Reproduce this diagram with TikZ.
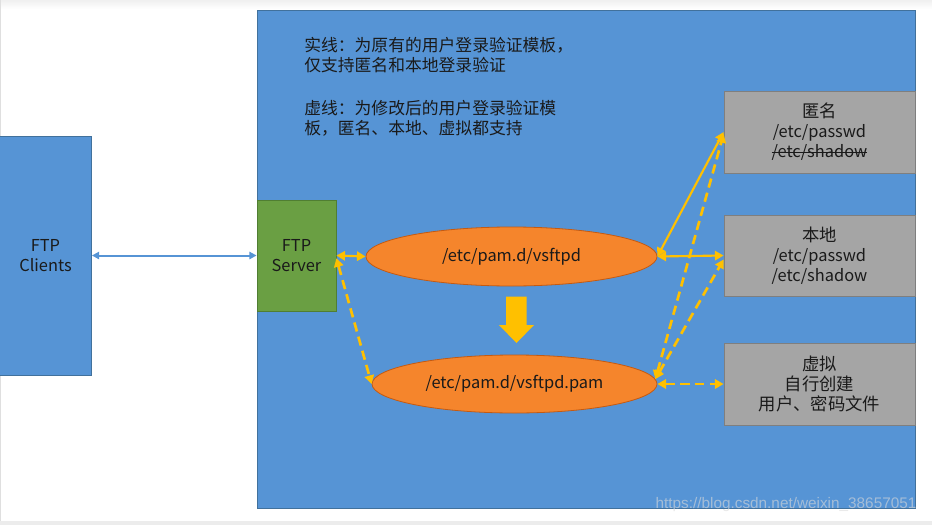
\documentclass[tikz,border=0pt]{standalone}
\usepackage{fontspec}
\setmainfont{Noto Sans CJK SC}
\newfontfamily\wmfont{Liberation Sans}
\usetikzlibrary{arrows.meta,shapes.geometric}
\definecolor{panelblue}{HTML}{5694D5}
\definecolor{panelline}{HTML}{41719C}
\definecolor{servgreen}{HTML}{6A9F43}
\definecolor{servline}{HTML}{507E32}
\definecolor{ellorange}{HTML}{F5852C}
\definecolor{ellline}{HTML}{C55A11}
\definecolor{boxgray}{HTML}{A5A5A5}
\definecolor{boxline}{HTML}{7F7F7F}
\definecolor{arrowyellow}{HTML}{FFC000}
\definecolor{txtcol}{HTML}{1A1A1A}
\newcommand\strikeit[1]{\setbox0\hbox{#1}\rlap{\rule[0.3em]{\wd0}{0.6pt}}\box0}
\newcommand\zh[1]{{\fontsize{13}{15}\selectfont #1}}
\tikzset{
  graybox/.style={rectangle, draw=boxline, fill=boxgray, line width=0.6pt,
    minimum width=143.25pt, minimum height=61.5pt, inner sep=0pt, align=center},
  ell/.style={ellipse, draw=ellline, fill=ellorange, line width=0.6pt, inner sep=0pt},
  ylink/.style={draw=arrowyellow, line width=1.6pt,
    {Triangle[length=6.5pt,width=7pt]}-{Triangle[length=6.5pt,width=7pt]}},
  ydash/.style={ylink, line width=2pt, dash pattern=on 7pt off 4pt},
  blink/.style={draw=panelblue, line width=1.5pt,
    {Triangle[length=5.5pt,width=5.5pt]}-{Triangle[length=5.5pt,width=5.5pt]}},
  note/.style={anchor=west, inner sep=0pt, font=\fontsize{12.6}{15}\selectfont}
}
\begin{document}
\begin{tikzpicture}[x=0.75pt, y=-0.75pt, font=\fontsize{12.3}{15}\selectfont, text=txtcol]
\useasboundingbox (0,0) rectangle (932,525);
% frame of the screenshot
\shade[top color=gray!12, bottom color=white] (0,0) rectangle (932,9);
\fill[gray!15] (0,521) rectangle (932,525);
\draw[gray!25, line width=0.5pt] (0.4,0) -- (0.4,521);
% big panel
\draw[fill=panelblue, draw=panelline, line width=0.6pt] (257,10) rectangle (915,508);
% notes
\node[note] (t1) at (304,45) {实线：为原有的用户登录验证模板，};
\node[note] (t2) at (304,65) {仅支持匿名和本地登录验证};
\node[note] (t3) at (304,108) {虚线：为修改后的用户登录验证模};
\node[note] (t4) at (304,128) {板，匿名、本地、虚拟都支持};
% nodes
\node[rectangle, draw=panelline, fill=panelblue, line width=0.6pt, minimum width=69pt,
  minimum height=179.25pt, inner sep=0pt, align=center] (clients) at (45.5,255.5) {FTP\\Clients};
\node[rectangle, draw=servline, fill=servgreen, line width=0.6pt, minimum width=59.25pt,
  minimum height=83.25pt, inner sep=0pt, align=center] (server) at (296.5,255.5) {FTP\\Server};
\node[ell, minimum width=218.25pt, minimum height=44.25pt] (e1) at (511.5,256.5) {/etc/pam.d/vsftpd};
\node[ell, minimum width=213.75pt, minimum height=43.5pt] (e2) at (514.5,384) {/etc/pam.d/vsftpd.pam};
\node[graybox] (b1) at (819.5,132) {\zh{匿名}\\/etc/passwd\\\strikeit{/etc/shadow}};
\node[graybox, minimum height=60.75pt] (b2) at (819.5,255.5) {\zh{本地}\\/etc/passwd\\/etc/shadow};
\node[graybox] (b3) at (819.5,384) {\zh{虚拟}\\\zh{自行创建}\\\zh{用户、密码文件}};
% big down arrow
\fill[arrowyellow] (506,296.5) -- (526.5,296.5) -- (526.5,325) -- (534,325) -- (516.5,343)
  -- (499,325) -- (506,325) -- cycle;
% connectors
\draw[blink] (clients.east) -- (server.west);
\draw[ylink] (server.east) -- (e1.west);
\draw[ydash] ([yshift=-2pt]server.east) -- (e2.west);
\draw[ylink] (e1.east) -- (b1.west);
\draw[ylink] (e1.east) -- (b2.west);
\draw[ydash] (e2.2) -- ([yshift=-1.5pt]b1.west);
\draw[ydash] (e2.2) -- ([yshift=-3pt]b2.west);
\draw[ydash] (e2.east) -- (b3.west);
% watermark
\node[text=white!85!black, text opacity=0.6, font=\wmfont\fontsize{11.5}{13}\selectfont, inner sep=0pt]
  (wm) at (786,505) {https://blog.csdn.net/weixin\_38657051};
\end{tikzpicture}
\end{document}
